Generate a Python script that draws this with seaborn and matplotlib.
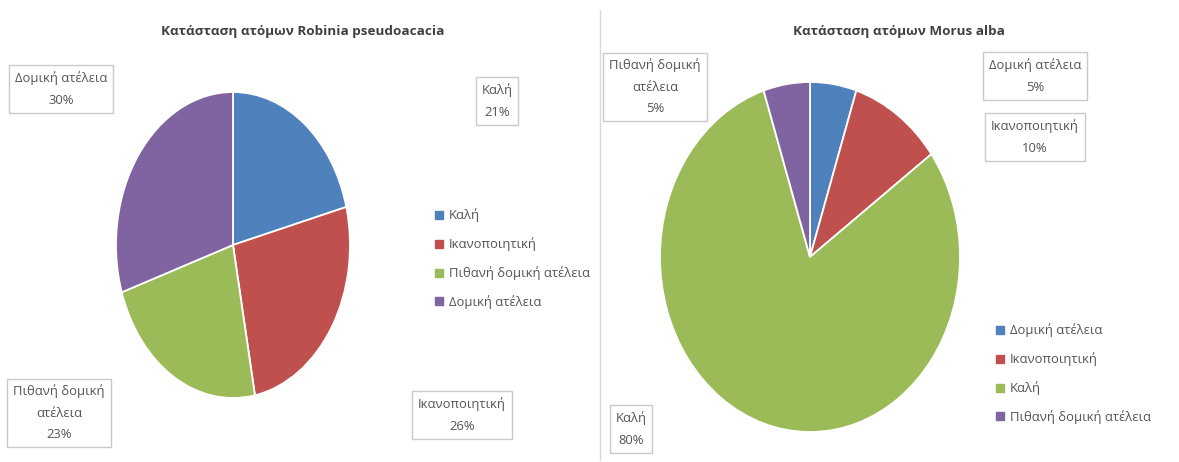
import matplotlib
matplotlib.use("Agg")
import matplotlib.pyplot as plt
from matplotlib.lines import Line2D
import seaborn as sns

sns.set_theme(style="white")
plt.rcParams["font.family"] = ["Open Sans", "DejaVu Sans"]

# --- data -------------------------------------------------------------
robinia_title = "Κατάσταση ατόμων Robinia pseudoacacia"
robinia_categories = ["Καλή", "Ικανοποιητική", "Πιθανή δομική ατέλεια", "Δομική ατέλεια"]
robinia_label_names = ["Καλή", "Ικανοποιητική", "Πιθανή δομική\nατέλεια", "Δομική ατέλεια"]
robinia_values = [21, 26, 23, 30]

morus_title = "Κατάσταση ατόμων Morus alba"
morus_categories = ["Δομική ατέλεια", "Ικανοποιητική", "Καλή", "Πιθανή δομική ατέλεια"]
morus_label_names = ["Δομική ατέλεια", "Ικανοποιητική", "Καλή", "Πιθανή δομική\nατέλεια"]
morus_values = [5, 10, 80, 5]

slice_colors = ["#4F81BD", "#C0504D", "#9BBB59", "#8064A2"]

# --- layout helpers (pixel coordinates, origin top-left) ----------------
W, H = 1179, 462
fig = plt.figure(figsize=(W / 100, H / 100), dpi=100)
fig.patch.set_facecolor("white")

TEXT = "#555555"
TITLE = "#404040"
FS = 9.4


def fx(x):
    return x / W


def fy(y):
    return 1 - y / H


def pie_panel(cx, cy, rx, ry, values, colors):
    ax = fig.add_axes([fx(cx - rx), fy(cy + ry), 2 * rx / W, 2 * ry / H])
    ax.pie(values, colors=colors, startangle=90, counterclock=False,
           wedgeprops=dict(edgecolor="white", linewidth=1.3))
    ax.set_aspect("auto")
    ax.set_xlim(-1, 1)
    ax.set_ylim(-1, 1)
    ax.axis("off")
    return ax


def boxed_label(x, y, text):
    fig.text(fx(x), fy(y), text, ha="center", va="center", fontsize=FS,
             color=TEXT, linespacing=1.85,
             bbox=dict(boxstyle="square,pad=0.45", facecolor="white",
                       edgecolor="#c9c9c9", linewidth=1))


def legend(x, y, labels, colors):
    handles = [Line2D([], [], marker="s", linestyle="", markersize=5.5,
                      markerfacecolor=c, markeredgecolor=c) for c in colors]
    fig.legend(handles, labels, loc="upper left",
               bbox_to_anchor=(fx(x), fy(y)), frameon=False, borderpad=0,
               handlelength=0.6, handletextpad=0.4, labelspacing=1.15,
               fontsize=FS, labelcolor=TEXT)


# --- left chart: Robinia pseudoacacia ----------------------------------
fig.text(fx(303), fy(32), robinia_title, ha="center", va="center",
         fontsize=9.7, fontweight="bold", color=TITLE)
pie_panel(233, 245, 117, 153, robinia_values, slice_colors)
robinia_label_pos = [(497, 101), (462, 415), (59, 413), (61, 89)]
for (x, y), name, v in zip(robinia_label_pos, robinia_label_names, robinia_values):
    boxed_label(x, y, f"{name}\n{v}%")
legend(429, 202, robinia_categories, slice_colors)

# --- separator ----------------------------------------------------------
fig.add_artist(Line2D([fx(600), fx(600)], [fy(10), fy(460)],
                      color="#d9d9d9", linewidth=1))

# --- right chart: Morus alba -------------------------------------------
fig.text(fx(899), fy(31), morus_title, ha="center", va="center",
         fontsize=9.7, fontweight="bold", color=TITLE)
pie_panel(810, 257, 150, 175, morus_values, slice_colors)
morus_label_pos = [(1035, 76), (1035, 137), (631, 429), (655, 87)]
for (x, y), name, v in zip(morus_label_pos, morus_label_names, morus_values):
    boxed_label(x, y, f"{name}\n{v}%")
legend(990, 317, morus_categories, slice_colors)

fig.savefig("out.png", dpi=100, facecolor="white")
